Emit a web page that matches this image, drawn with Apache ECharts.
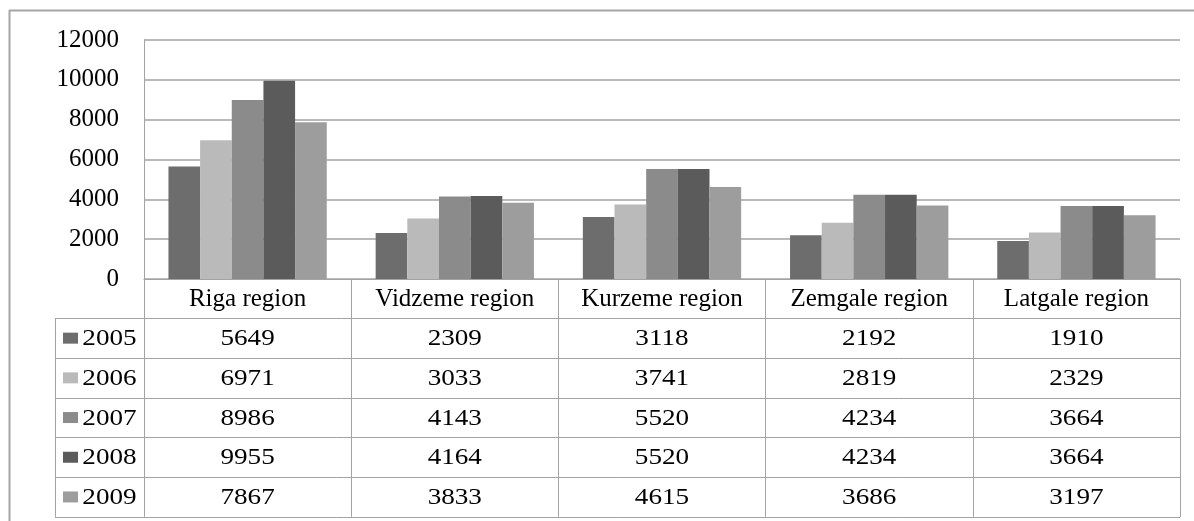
<!DOCTYPE html>
<html>
<head>
<meta charset="utf-8">
<script src="https://cdn.jsdelivr.net/npm/echarts@6/dist/echarts.min.js"></script>
<style>
html,body{margin:0;padding:0;background:#fff;}
#EchartBox{width:1194px;height:521px;}
</style>
</head>
<body>
<div id="EchartBox"></div>
<script>
// data
var categories = ['Riga region', 'Vidzeme region', 'Kurzeme region', 'Zemgale region', 'Latgale region'];
var years = ['2005', '2006', '2007', '2008', '2009'];
var v2005 = [5649, 2309, 3118, 2192, 1910];
var v2006 = [6971, 3033, 3741, 2819, 2329];
var v2007 = [8986, 4143, 5520, 4234, 3664];
var v2008 = [9955, 4164, 5520, 4234, 3664];
var v2009 = [7867, 3833, 4615, 3686, 3197];
var yMin = 0, yMax = 12000, yStep = 2000;

var values = [v2005, v2006, v2007, v2008, v2009];
var colors = ['#6d6d6d', '#bababa', '#8b8b8b', '#5b5b5b', '#9d9d9d'];

var fontFam = 'Liberation Serif';
var lineCol = '#a3a3a3';

// layout
var gridLeft = 144, gridRight = 1180, gridTop = 40, axisY = 279;
var headH = 39.3, rowH = 39.7, tableLeft = 55;
var tableBottom = axisY + headH + rowH * 5;

var myChart = echarts.init(document.getElementById('EchartBox'));

var series = [];
for (var i = 0; i < years.length; i++) {
	series.push({
		name: years[i],
		type: 'bar',
		data: values[i],
		barGap: '0%',
		barCategoryGap: '23.6%',
		itemStyle: { color: colors[i] },
		animation: false
	});
}

var option = {
	backgroundColor: '#fff',
	animation: false,
	grid: { left: gridLeft, right: 1194 - gridRight, top: gridTop, bottom: 521 - axisY },
	xAxis: {
		type: 'category',
		data: categories,
		axisLine: { lineStyle: { color: lineCol, width: 1 } },
		axisTick: { show: true, interval: 0, inside: false, length: tableBottom - axisY, lineStyle: { color: lineCol } },
		axisLabel: { interval: 0, margin: 8, fontSize: 25, fontFamily: fontFam, color: '#000' }
	},
	yAxis: {
		type: 'value',
		min: yMin,
		max: yMax,
		interval: yStep,
		axisLine: { show: true, lineStyle: { color: lineCol } },
		axisTick: { show: false },
		splitLine: { lineStyle: { color: lineCol, width: 1.5 } },
		axisLabel: { margin: 25, fontSize: 25, fontFamily: fontFam, color: '#000', formatter: function (v) { return String(v); } }
	},
	series: series
};
myChart.setOption(option);

// data table under the axis
var graphic = [];
// outer frame
graphic.push({ type: 'line', shape: { x1: 9, y1: 10.5, x2: 1194, y2: 10.5 }, style: { stroke: '#a6a6a6', lineWidth: 2 } });
graphic.push({ type: 'line', shape: { x1: 9.5, y1: 10, x2: 9.5, y2: 521 }, style: { stroke: '#a6a6a6', lineWidth: 2 } });
// horizontal rules
for (var r = 0; r <= 5; r++) {
	var yy = Math.round(axisY + headH + rowH * r) + 0.5;
	graphic.push({ type: 'line', shape: { x1: tableLeft, y1: yy, x2: gridRight, y2: yy }, style: { stroke: lineCol, lineWidth: 1 } });
}
graphic.push({ type: 'line', shape: { x1: tableLeft + 0.5, y1: axisY + headH, x2: tableLeft + 0.5, y2: tableBottom }, style: { stroke: lineCol, lineWidth: 1 } });

for (var r = 0; r < years.length; r++) {
	var cy = axisY + headH + rowH * r + rowH / 2;
	graphic.push({ type: 'rect', shape: { x: 63, y: cy - 5.5, width: 15, height: 11 }, style: { fill: colors[r] } });
	graphic.push({
		type: 'text', x: 109.5, y: cy + 1, scaleX: 1.18,
		style: { text: years[r], fontSize: 23, fontFamily: fontFam, fill: '#000', align: 'center', verticalAlign: 'middle' }
	});
	for (var c = 0; c < categories.length; c++) {
		var cx = myChart.convertToPixel({ xAxisIndex: 0 }, categories[c]);
		graphic.push({
			type: 'text', x: cx, y: cy + 1, scaleX: 1.18,
			style: { text: String(values[r][c]), fontSize: 23, fontFamily: fontFam, fill: '#000', align: 'center', verticalAlign: 'middle' }
		});
	}
}
myChart.setOption({ graphic: graphic });
</script>
</body>
</html>
